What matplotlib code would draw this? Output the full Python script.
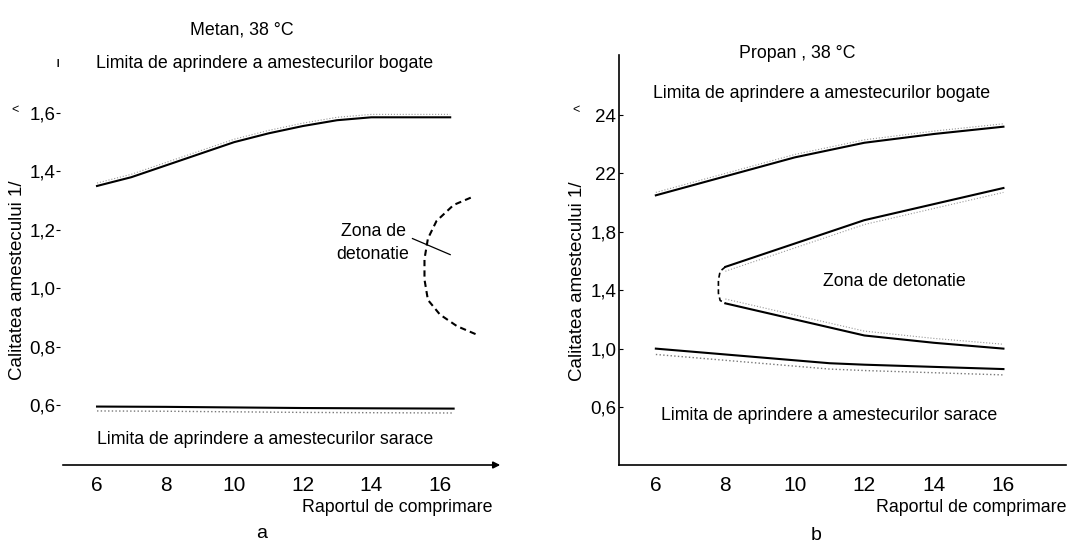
import matplotlib.pyplot as plt

plt.rcParams['font.family'] = ['Liberation Sans', 'DejaVu Sans']

# Metan, 38 C
metan_x_bogat = [6, 7, 8, 9, 10, 11, 12, 13, 14, 15, 16.3]
metan_y_bogat = [1.35, 1.38, 1.42, 1.46, 1.50, 1.53, 1.555, 1.575, 1.585, 1.585, 1.585]
metan_x_sarac = [6, 8, 10, 12, 14, 16.4]
metan_y_sarac = [0.595, 0.594, 0.592, 0.59, 0.589, 0.588]
metan_x_deton = [16.9, 16.4, 15.9, 15.65, 15.55, 15.55, 15.65, 16.0, 16.5, 17.1]
metan_y_deton = [1.31, 1.285, 1.23, 1.17, 1.10, 1.03, 0.96, 0.91, 0.87, 0.84]

# Propan, 38 C
propan_x_bogat = [6, 8, 10, 12, 14, 16]
propan_y_bogat = [2.05, 2.18, 2.31, 2.41, 2.47, 2.52]
propan_x_sarac = [6, 8, 10, 11, 12, 14, 16]
propan_y_sarac = [1.00, 0.96, 0.92, 0.90, 0.89, 0.875, 0.86]
propan_x_sus = [8, 10, 12, 14, 16]
propan_y_sus = [1.56, 1.72, 1.88, 1.99, 2.10]
propan_x_jos = [8, 10, 12, 14, 16]
propan_y_jos = [1.31, 1.20, 1.09, 1.04, 1.00]
propan_x_cap = [8, 7.85, 7.8, 7.8, 7.85, 8]
propan_y_cap = [1.56, 1.53, 1.47, 1.38, 1.33, 1.31]

x_ticks = [6, 8, 10, 12, 14, 16]
metan_y_ticks = [0.6, 0.8, 1.0, 1.2, 1.4, 1.6]
metan_y_labels = ['0,6', '0,8', '1,0', '1,2', '1,4', '1,6']
propan_y_ticks = [0.6, 1.0, 1.4, 1.8, 2.2, 2.6]
propan_y_labels = ['0,6', '1,0', '1,4', '1,8', '22', '24']

fig = plt.figure(figsize=(10.68, 5.44), dpi=100)
W, H = 1068.0, 544.0
FS = 12.8

# ---- panel a ----
ax1 = fig.add_axes([60 / W, 79 / H, 443 / W, 445 / H])
ax1.set_xlim(4.92, 17.84)
ax1.set_ylim(0.395, 1.918)
for s in ax1.spines.values():
    s.set_visible(False)
ax1.annotate('', xy=(1.0, 0), xytext=(0, 0), xycoords='axes fraction',
             arrowprops=dict(arrowstyle='-|>', color='black', lw=1.2, mutation_scale=10))
ax1.plot(metan_x_bogat, metan_y_bogat, color='black', lw=1.5)
ax1.plot(metan_x_bogat, [v + 0.01 for v in metan_y_bogat], color='#999999', lw=0.8, ls=':')
ax1.plot(metan_x_sarac, metan_y_sarac, color='black', lw=1.5)
ax1.plot(metan_x_sarac, [v - 0.015 for v in metan_y_sarac], color='#777777', lw=1.0, ls=':')
ax1.plot(metan_x_deton, metan_y_deton, color='black', lw=1.5, ls=(0, (3, 2)))
ax1.plot([15.2, 16.3], [1.17, 1.115], color='black', lw=0.9)
ax1.text(14.05, 1.155, 'Zona de\ndetonatie', ha='center', va='center', fontsize=FS, linespacing=1.45)
ax1.set_xticks(x_ticks)
ax1.set_xticklabels([str(t) for t in x_ticks])
ax1.set_yticks(metan_y_ticks)
ax1.set_yticklabels(metan_y_labels)
ax1.tick_params(axis='x', length=0, labelsize=15, pad=8)
ax1.tick_params(axis='y', length=3, direction='out', labelsize=13.5, pad=0)
ax1.set_facecolor('none')

# ---- panel b ----
ax2 = fig.add_axes([619 / W, 79 / H, 447 / W, 410 / H])
ax2.set_xlim(4.94, 17.8)
ax2.set_ylim(0.203, 3.011)
ax2.spines['top'].set_visible(False)
ax2.spines['right'].set_visible(False)
ax2.spines['left'].set_linewidth(1.2)
ax2.spines['bottom'].set_linewidth(1.2)
ax2.plot(propan_x_bogat, propan_y_bogat, color='black', lw=1.5)
ax2.plot(propan_x_bogat, [v + 0.02 for v in propan_y_bogat], color='#999999', lw=0.8, ls=':')
ax2.plot(propan_x_sus, propan_y_sus, color='black', lw=1.5)
ax2.plot(propan_x_sus, [v - 0.03 for v in propan_y_sus], color='#999999', lw=0.8, ls=':')
ax2.plot(propan_x_jos, propan_y_jos, color='black', lw=1.5)
ax2.plot(propan_x_jos, [v + 0.03 for v in propan_y_jos], color='#999999', lw=0.8, ls=':')
ax2.plot(propan_x_sarac, propan_y_sarac, color='black', lw=1.5)
ax2.plot(propan_x_sarac, [v - 0.04 for v in propan_y_sarac], color='#777777', lw=1.0, ls=':')
ax2.plot(propan_x_cap, propan_y_cap, color='black', lw=1.2, ls=(0, (3, 2)))
ax2.set_xticks(x_ticks)
ax2.set_xticklabels([str(t) for t in x_ticks])
ax2.set_yticks(propan_y_ticks)
ax2.set_yticklabels(propan_y_labels)
ax2.tick_params(axis='x', length=0, labelsize=15, pad=8)
ax2.tick_params(axis='y', length=3, direction='in', labelsize=13.5, pad=2)
ax2.set_facecolor('none')

# ---- texts ----
def px(x, y, s, **kw):
    fig.text(x / W, 1 - y / H, s, **kw)

px(242, 30, 'Metan, 38 °C', ha='center', va='center', fontsize=FS)
px(265, 63, 'Limita de aprindere a amestecurilor bogate', ha='center', va='center', fontsize=FS)
px(265, 439, 'Limita de aprindere a amestecurilor sarace', ha='center', va='center', fontsize=FS)
px(493, 507, 'Raportul de comprimare', ha='right', va='center', fontsize=FS)
px(262, 533, 'a', ha='center', va='center', fontsize=14)
px(18, 280, 'Calitatea amestecului 1/', ha='center', va='center', rotation=90, fontsize=13.5)
px(58, 63, 'ı', ha='center', va='center', fontsize=11)
px(15, 110, '<', ha='center', va='center', fontsize=9)

px(797, 53, 'Propan , 38 °C', ha='center', va='center', fontsize=FS)
px(822, 93, 'Limita de aprindere a amestecurilor bogate', ha='center', va='center', fontsize=FS)
px(894, 282, 'Zona de detonatie', ha='center', va='center', fontsize=FS)
px(829, 415, 'Limita de aprindere a amestecurilor sarace', ha='center', va='center', fontsize=FS)
px(1066, 507, 'Raportul de comprimare', ha='right', va='center', fontsize=FS)
px(816, 535, 'b', ha='center', va='center', fontsize=14)
px(578, 281, 'Calitatea amestecului 1/', ha='center', va='center', rotation=90, fontsize=13.5)
px(576, 110, '<', ha='center', va='center', fontsize=9)

fig.savefig('out.png', dpi=100)
